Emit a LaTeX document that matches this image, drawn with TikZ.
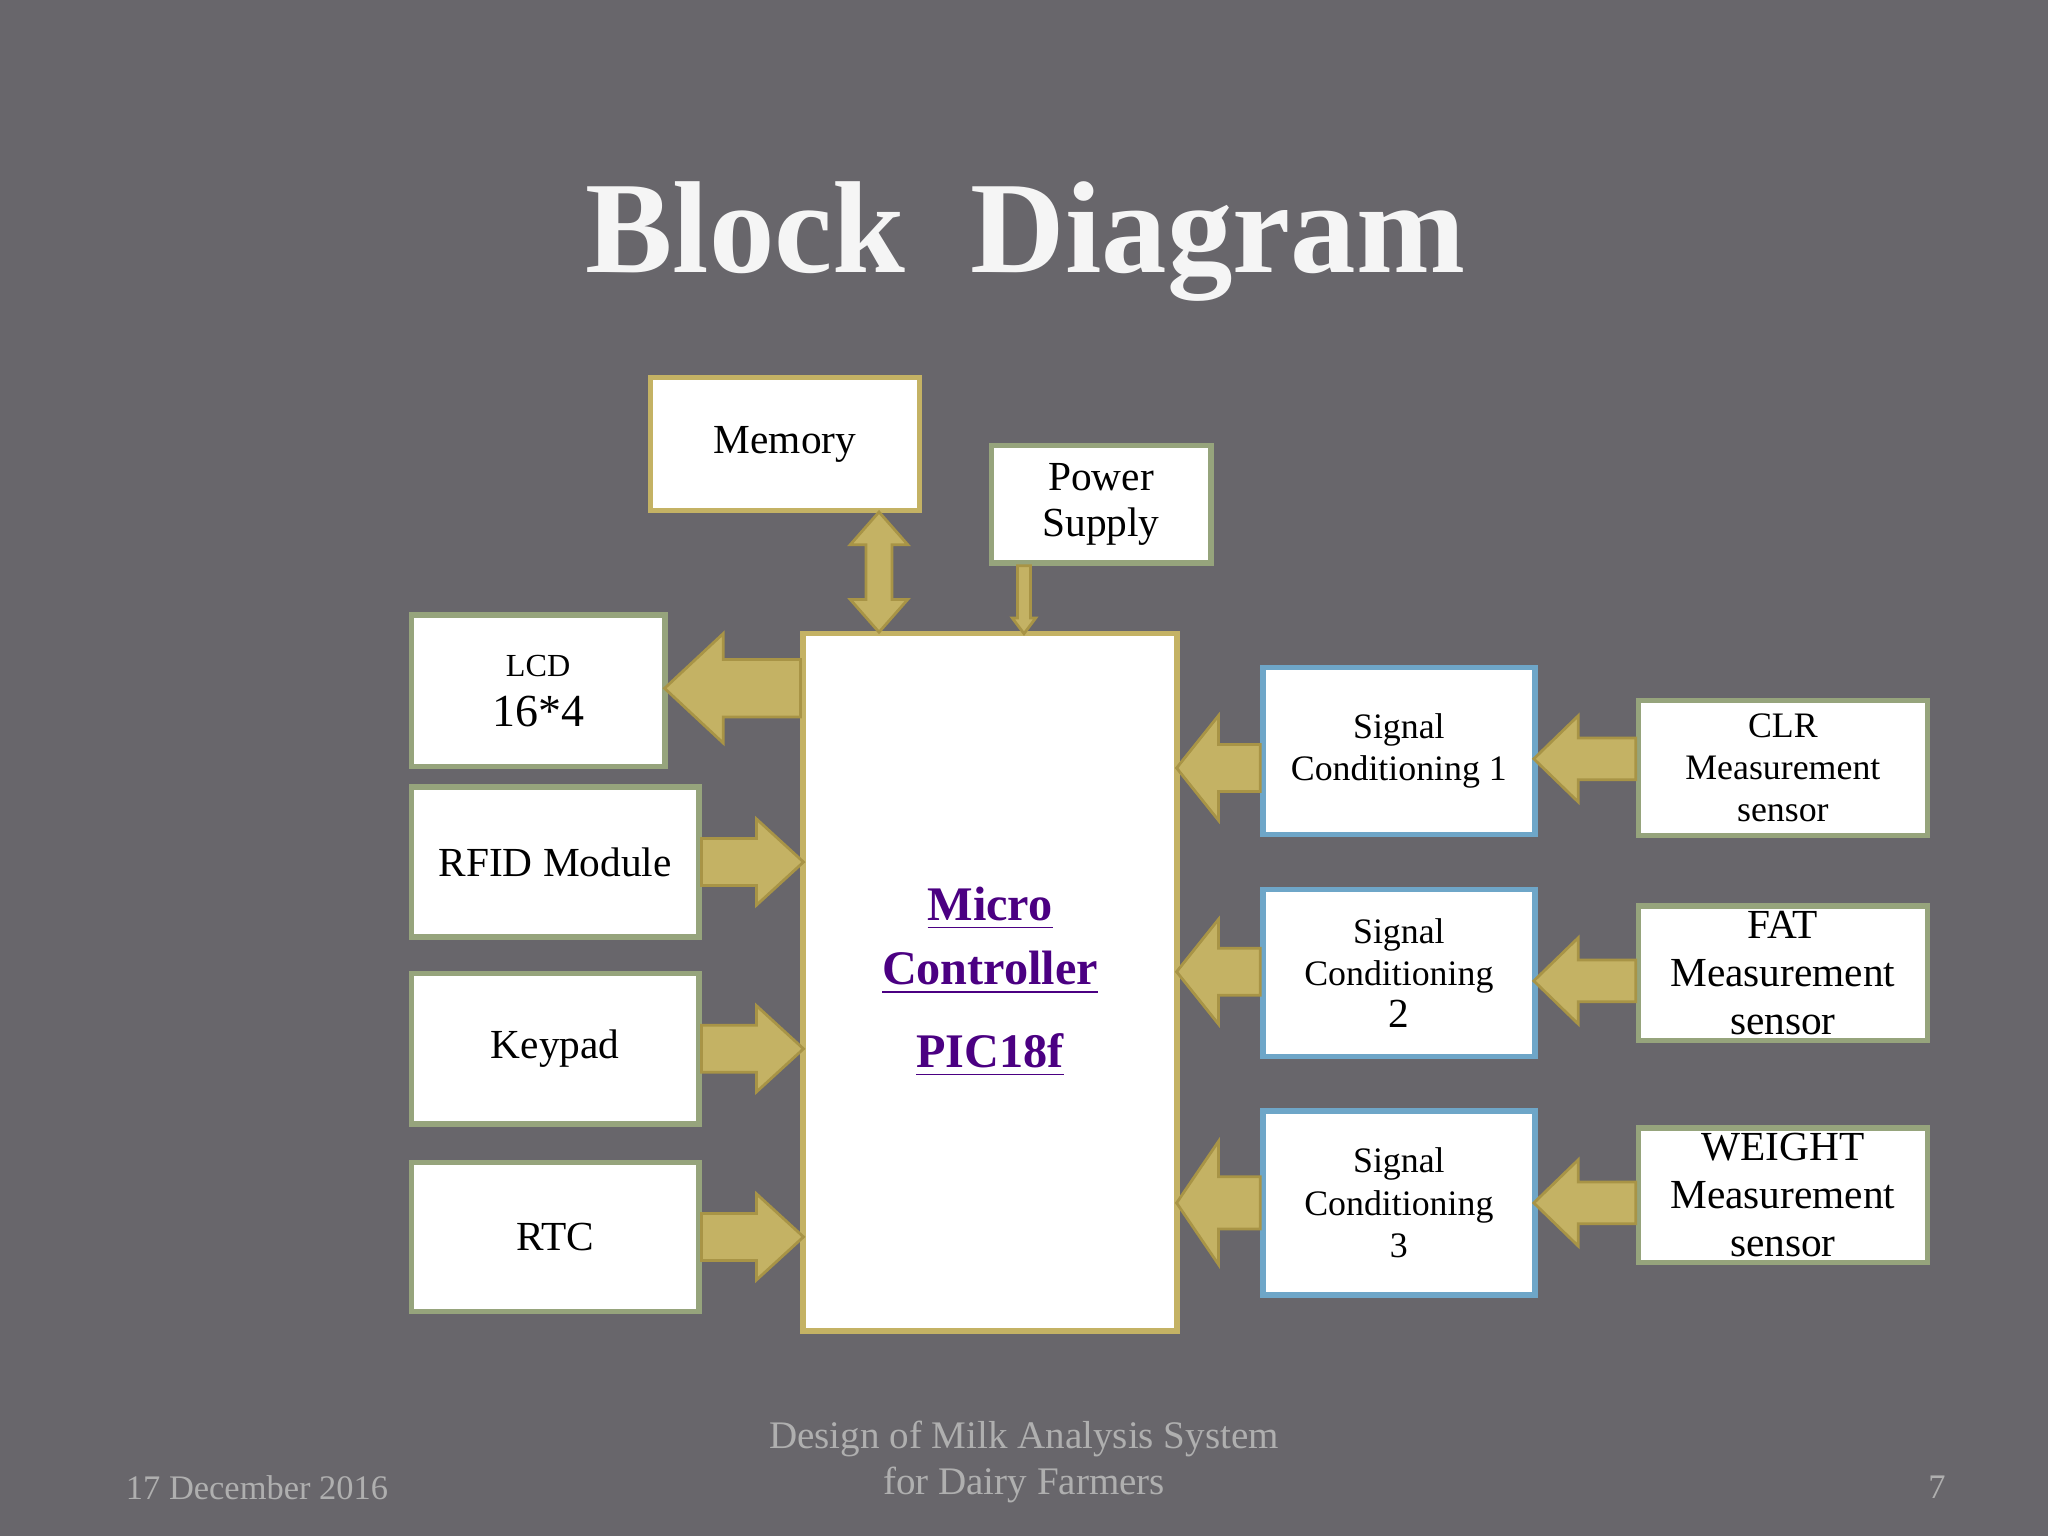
\documentclass[tikz,border=0pt]{standalone}
\usepackage{fontspec}
\setmainfont{Liberation Serif}
\usetikzlibrary{calc}
\definecolor{slide}{RGB}{104,102,107}
\definecolor{gold}{RGB}{196,178,100}
\definecolor{golddark}{RGB}{168,148,70}
\definecolor{sage}{RGB}{150,164,124}
\definecolor{sky}{RGB}{110,166,200}
\definecolor{mcutext}{RGB}{75,0,130}
\definecolor{foot}{RGB}{175,175,175}
\tikzset{
  blk/.style={draw=sage, line width=1.2pt, fill=white, inner sep=0pt, align=center},
  goldblk/.style={blk, draw=gold},
  skyblk/.style={blk, draw=sky},
  barrow/.style={fill=gold, draw=golddark, line width=0.6pt, line join=miter},
}
% block arrow: start point, angle, length, shaft half width, head half width, head length
\newcommand\blockarrow[6]{%
  \draw[barrow, shift={(#1)}, rotate=#2] (0,-#4) -- ({#3-#6},-#4) -- ({#3-#6},-#5) -- (#3,0)
    -- ({#3-#6},#5) -- ({#3-#6},#4) -- (0,#4) -- cycle;}
\begin{document}
\begin{tikzpicture}[x=0.01cm, y=-0.01cm]
\fill[slide] (0,0) rectangle (1568,1176);
\useasboundingbox (0,0) rectangle (1568,1176);
% title
\node[text=white!92!gray, font=\fontsize{28.5}{34}\selectfont\bfseries] (title) at (785,185) {Block\enskip Diagram};
% blocks
\node[goldblk, minimum width=2.06cm, minimum height=1.02cm, font=\fontsize{9}{10}\selectfont] (mem) at (601,340) {Memory};
\node[blk, minimum width=1.68cm, minimum height=0.9cm, font=\fontsize{9}{10}\selectfont] (psu) at (843,386) {Power\\Supply};
\node[blk, minimum width=1.94cm, minimum height=1.16cm] (lcd) at (412,529) {{\fontsize{7}{9}\selectfont LCD}\\[-1pt]{\fontsize{10}{11}\selectfont 16*4}};
\node[blk, minimum width=2.2cm, minimum height=1.15cm, font=\fontsize{9}{10}\selectfont] (rfid) at (425,660) {RFID Module};
\node[blk, minimum width=2.2cm, minimum height=1.15cm, font=\fontsize{9}{10}\selectfont] (key) at (425,803) {Keypad};
\node[blk, minimum width=2.2cm, minimum height=1.14cm, font=\fontsize{9}{10}\selectfont] (rtc) at (425,947) {RTC};
\node[goldblk, minimum width=2.86cm, minimum height=5.34cm, text=mcutext, font=\fontsize{10.5}{12}\selectfont\bfseries] (mcu) at (758,752)
  {\underline{Micro}\\[2pt]\underline{Controller}\\[6pt]\underline{PIC18f}};
\node[skyblk, minimum width=2.08cm, minimum height=1.28cm, font=\fontsize{7.8}{9.2}\selectfont] (sc1) at (1071,575) {Signal\\Conditioning 1};
\node[skyblk, minimum width=2.08cm, minimum height=1.28cm, font=\fontsize{7.8}{9.2}\selectfont] (sc2) at (1071,745) {Signal\\Conditioning\\{\fontsize{9}{10}\selectfont 2}};
\node[skyblk, minimum width=2.08cm, minimum height=1.41cm, font=\fontsize{7.8}{9.2}\selectfont] (sc3) at (1071,921) {Signal\\Conditioning\\3};
\node[blk, minimum width=2.21cm, minimum height=1.03cm, font=\fontsize{7.8}{9.2}\selectfont] (clr) at (1365,588) {CLR\\Measurement\\sensor};
\node[blk, minimum width=2.21cm, minimum height=1.03cm, font=\fontsize{9}{10.5}\selectfont] (fat) at (1365,745) {FAT\\Measurement\\sensor};
\node[blk, minimum width=2.21cm, minimum height=1.03cm, font=\fontsize{9}{10.5}\selectfont] (wgt) at (1365,915) {WEIGHT\\Measurement\\sensor};
% arrows
\blockarrow{mcu.west |- 0,527}{180}{104}{22}{42}{45}
\blockarrow{rfid.east}{0}{78}{18}{33}{36}
\blockarrow{key.east}{0}{78}{18}{33}{36}
\blockarrow{rtc.east}{0}{78}{18}{33}{36}
\blockarrow{sc1.west |- 0,588}{180}{64}{18}{40}{32}
\blockarrow{sc2.west |- 0,744}{180}{64}{18}{40}{32}
\blockarrow{sc3.west |- 0,921}{180}{64}{20}{47}{32}
\blockarrow{clr.west |- 0,581}{180}{78}{16}{33}{34}
\blockarrow{fat.west |- 0,751}{180}{78}{16}{33}{34}
\blockarrow{wgt.west |- 0,921}{180}{78}{16}{33}{34}
\draw[barrow] (673,392) -- (695,417) -- (683,417) -- (683,459) -- (695,459) -- (673,484)
  -- (651,459) -- (663,459) -- (663,417) -- (651,417) -- cycle;
\blockarrow{psu.south -| 784,0}{-90}{52}{5}{9}{12}
% footer
\node[text=foot, font=\fontsize{7.5}{9}\selectfont, anchor=west] (date) at (84,1139) {17 December 2016};
\node[text=foot, font=\fontsize{8.5}{10}\selectfont, align=center] (foot) at (784,1119) {Design of Milk Analysis System\\for Dairy Farmers};
\node[text=foot, font=\fontsize{7.5}{9}\selectfont] (page) at (1483,1139) {7};
\end{tikzpicture}
\end{document}
